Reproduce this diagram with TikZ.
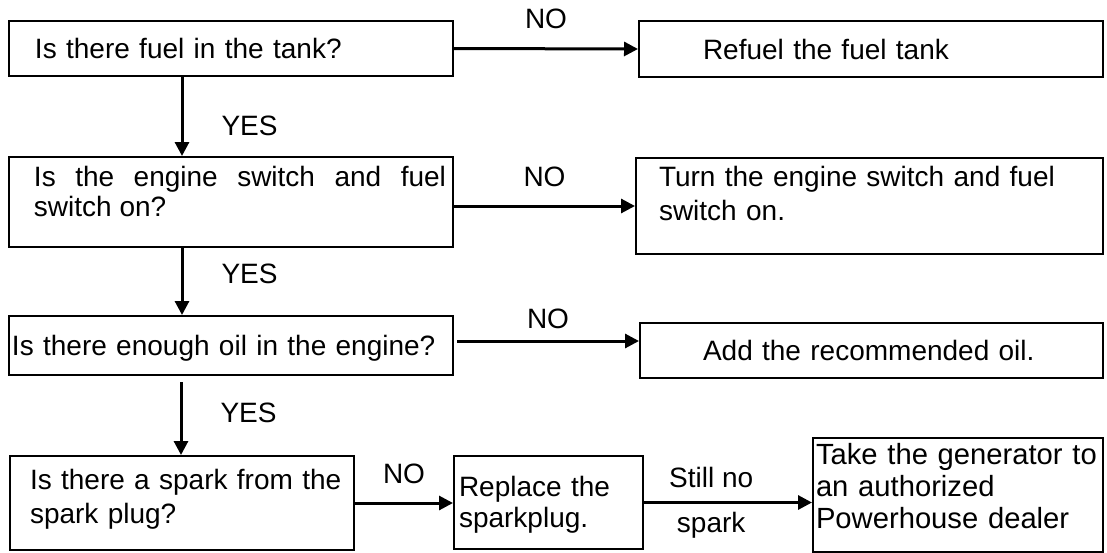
\documentclass[tikz,border=0pt]{standalone}
\usepackage{fontspec}
\setmainfont{Liberation Sans}
\usetikzlibrary{arrows.meta}

\begin{document}
\begin{tikzpicture}[x=0.5pt, y=-0.5pt,
	every node/.style={font=\fontsize{14}{17}\selectfont},
	>={Triangle[length=7pt,width=7pt]},
	box/.style n args={3}{draw, line width=1pt, anchor=north west, inner sep=0pt, align=left,
		minimum width=#1, text width=#1, text height=#2, text depth=#3},
	tag/.style={inner sep=0pt},
	flow/.style={->, line width=1.5pt}]
	\useasboundingbox (0,0) rectangle (1107,552);
	\node[box={222pt}{18.75pt}{8.75pt}] (q1) at (8,20) {\leftskip=13pt Is there fuel in the tank?\par};
	\node[box={232pt}{19pt}{9pt}] (a1) at (638,20) {\leftskip=32pt Refuel the fuel tank\par};
	\node[box={222pt}{14.5pt}{30.5pt}, align=justify, font=\fontsize{14}{15}\selectfont] (q2) at (8,156)
		{\leftskip=12.5pt\rightskip=3.5pt Is the engine switch and fuel\linebreak switch on?\par};
	\node[box={233.5pt}{14pt}{34pt}] (a2) at (635,157) {\leftskip=11.5pt Turn the engine switch and fuel\\switch on.\par};
	\node[box={222pt}{19.75pt}{9.75pt}] (q3) at (8,315) {\leftskip=1.5pt Is there enough oil in the engine?\par};
	\node[box={231.5pt}{18.75pt}{8.75pt}] (a3) at (639,322) {\leftskip=31.5pt Add the recommended oil.\par};
	\node[box={172pt}{16.5pt}{30.5pt}] (q4) at (9,455) {\leftskip=10pt Is there a spark from the\\spark plug?\par};
	\node[box={94.5pt}{20pt}{26.5pt}, font=\fontsize{14}{15.5}\selectfont] (r4) at (453,455) {\leftskip=2.5pt Replace the\\sparkplug.\par};
	\node[box={145pt}{13pt}{44pt}, font=\fontsize{14.6}{16}\selectfont] (t4) at (812,437)
		{\leftskip=1.5pt Take the generator to\\an authorized\\Powerhouse dealer\par};
	\coordinate (s3) at (457,341);
	\coordinate (s4) at (181,382);
	\draw[flow] (q1.east) -- (a1.west) node[tag, midway, above=9pt] (n1) {NO};
	\draw[flow] (q2.east |- a2.west) -- (a2.west) node[tag, midway, above=9pt] (n2) {NO};
	\draw[flow] (s3) -- (s3 -| a3.west) node[tag, midway, above=5.5pt] (n3) {NO};
	\draw[flow] (q4.east) -- (q4.east -| r4.west) node[tag, midway, above=9pt] (n4) {NO};
	\draw[flow] (r4.east) -- (r4.east -| t4.west) node[tag, pos=.4, above=6.5pt] (still) {Still no}
		node[tag, pos=.4, below=4pt] (spark) {spark};
	\draw[flow] (q1.south -| q4.north) -- (q2.north -| q4.north) node[tag, pos=.62, right=19pt] (y1) {YES};
	\draw[flow] (q2.south -| q4.north) -- (q3.north -| q4.north) node[tag, pos=.39, right=19pt] (y2) {YES};
	\draw[flow] (s4) -- (s4 |- q4.north) node[tag, pos=.42, right=19pt] (y3) {YES};
\end{tikzpicture}
\end{document}
